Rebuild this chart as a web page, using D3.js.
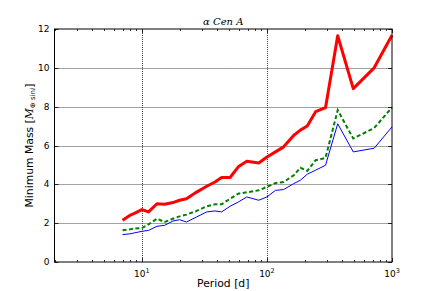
<!DOCTYPE html>
<html>
<head>
<meta charset="utf-8">
<script src="https://cdn.jsdelivr.net/npm/d3@7"></script>
<style>
  body { margin: 0; background: #fff; }
  svg { display: block; font-family: "DejaVu Sans", sans-serif; }
</style>
</head>
<body>
<svg id="chart" width="436" height="291"></svg>
<script>
// periods [d] shared by all three curves
const periods = [7, 8, 8.7, 10, 11.3, 13.2, 15.2, 17.7, 20, 22.7, 27.4, 33, 38.4, 43.4, 50.7, 59, 69, 86, 100, 117, 136, 164, 185, 210, 245, 294, 368, 490, 720, 1000];
const redMass = [2.15, 2.4, 2.5, 2.7, 2.58, 3.0, 2.97, 3.06, 3.18, 3.26, 3.6, 3.9, 4.12, 4.35, 4.35, 4.9, 5.19, 5.1, 5.41, 5.67, 5.93, 6.53, 6.79, 7.0, 7.74, 7.95, 11.65, 8.93, 10.0, 11.68];
const greenMass = [1.63, 1.68, 1.72, 1.75, 1.94, 2.23, 2.06, 2.23, 2.35, 2.44, 2.63, 2.87, 2.97, 2.97, 3.26, 3.52, 3.59, 3.69, 3.87, 4.07, 4.12, 4.47, 4.86, 4.69, 5.24, 5.36, 7.82, 6.36, 6.9, 7.96];
const blueMass = [1.41, 1.45, 1.5, 1.58, 1.63, 1.84, 1.89, 2.11, 2.18, 2.06, 2.32, 2.58, 2.63, 2.58, 2.87, 3.09, 3.35, 3.18, 3.35, 3.69, 3.73, 4.04, 4.21, 4.52, 4.73, 4.98, 7.12, 5.67, 5.86, 6.96];
const xMajor = [10, 100, 1000];
const yTicks = [0, 2, 4, 6, 8, 10, 12];

const margin = {left: 54.5, right: 44, top: 29, bottom: 29};
const W = 436, H = 291;
const svg = d3.select('#chart');

const x = d3.scaleLog().domain([2, 1000]).range([margin.left, W - margin.right]);
const y = d3.scaleLinear().domain([0, 12]).range([H - margin.bottom, margin.top]);

const x0 = x.range()[0], x1 = x.range()[1], y0 = y.range()[0], y1 = y.range()[1];
const px = v => Math.round(v) + 0.5;   // crisp 1px lines

// minor ticks on log axis
const xMinor = [];
[1, 10, 100].forEach(dec => {
  for (let k = 2; k <= 9; k++) {
    const v = k * dec;
    if (v >= 2 && v <= 1000) xMinor.push(v);
  }
});

// grid
const grid = svg.append('g').attr('stroke', '#444').attr('stroke-width', 1).attr('stroke-dasharray', '1,1');
xMajor.filter(d => d < 1000).forEach(d => {
  grid.append('line').attr('x1', px(x(d))).attr('x2', px(x(d))).attr('y1', y0).attr('y2', y1);
});
yTicks.filter(d => d > 0 && d < 12).forEach(d => {
  grid.append('line').attr('x1', x0).attr('x2', x1).attr('y1', px(y(d))).attr('y2', px(y(d)));
});

// lines
const line = d3.line().x((d, i) => x(periods[i])).y(d => y(d));
svg.append('path').datum(blueMass).attr('d', line)
  .attr('fill', 'none').attr('stroke', '#0000ff').attr('stroke-width', 1);
svg.append('path').datum(greenMass).attr('d', line)
  .attr('fill', 'none').attr('stroke', '#008000').attr('stroke-width', 2).attr('stroke-dasharray', '4,2.5');
svg.append('path').datum(redMass).attr('d', line)
  .attr('fill', 'none').attr('stroke', '#ff0000').attr('stroke-width', 3).attr('stroke-linejoin', 'round');

// ticks (inward, all sides)
const ticks = svg.append('g').attr('stroke', '#000').attr('stroke-width', 0.8);
xMajor.forEach(v => {
  ticks.append('line').attr('x1', px(x(v))).attr('x2', px(x(v))).attr('y1', y0).attr('y2', y0 - 4);
  ticks.append('line').attr('x1', px(x(v))).attr('x2', px(x(v))).attr('y1', y1).attr('y2', y1 + 4);
});
xMinor.forEach(v => {
  ticks.append('line').attr('x1', px(x(v))).attr('x2', px(x(v))).attr('y1', y0).attr('y2', y0 - 2);
  ticks.append('line').attr('x1', px(x(v))).attr('x2', px(x(v))).attr('y1', y1).attr('y2', y1 + 2);
});
yTicks.forEach(v => {
  ticks.append('line').attr('x1', x0).attr('x2', x0 + 4).attr('y1', px(y(v))).attr('y2', px(y(v)));
  ticks.append('line').attr('x1', x1).attr('x2', x1 - 4).attr('y1', px(y(v))).attr('y2', px(y(v)));
});

// frame
svg.append('rect').attr('x', x0).attr('y', y1).attr('width', x1 - x0).attr('height', y0 - y1)
  .attr('fill', 'none').attr('stroke', '#000').attr('stroke-width', 1);

// y tick labels
svg.selectAll('.yl').data(yTicks).enter().append('text')
  .attr('x', x0 - 5).attr('y', d => y(d)).attr('dy', '0.35em')
  .attr('text-anchor', 'end').attr('font-size', 9).text(d => d);

// x tick labels 10^n
xMajor.forEach(v => {
  const t = svg.append('text').attr('x', x(v)).attr('y', y0 + 15)
    .attr('text-anchor', 'middle').attr('font-size', 9);
  t.append('tspan').text('10');
  t.append('tspan').attr('dy', -4).attr('font-size', 6.5).text(Math.round(Math.log10(v)));
});

// axis labels
svg.append('text').attr('x', (x0 + x1) / 2).attr('y', H - 4)
  .attr('text-anchor', 'middle').attr('font-size', 10.8).text('Period [d]');

const yl = svg.append('text')
  .attr('transform', `translate(${33},${(y0 + y1) / 2}) rotate(-90)`)
  .attr('text-anchor', 'middle').attr('font-size', 10.8);
yl.append('tspan').text('Minimum Mass [');
yl.append('tspan').attr('font-family', 'DejaVu Serif').attr('font-style', 'italic').text('M');
yl.append('tspan').attr('font-size', 7).attr('dy', 2).text('⊕ sin');
yl.append('tspan').attr('font-size', 7).attr('font-family', 'DejaVu Serif').attr('font-style', 'italic').text('i');
yl.append('tspan').attr('dy', -2).text(']');

// title
svg.append('text').attr('x', (x0 + x1) / 2).attr('y', y1 - 4)
  .attr('text-anchor', 'middle').attr('font-size', 10)
  .attr('font-family', 'DejaVu Serif').attr('font-style', 'italic').text('α Cen A');
</script>
</body>
</html>
